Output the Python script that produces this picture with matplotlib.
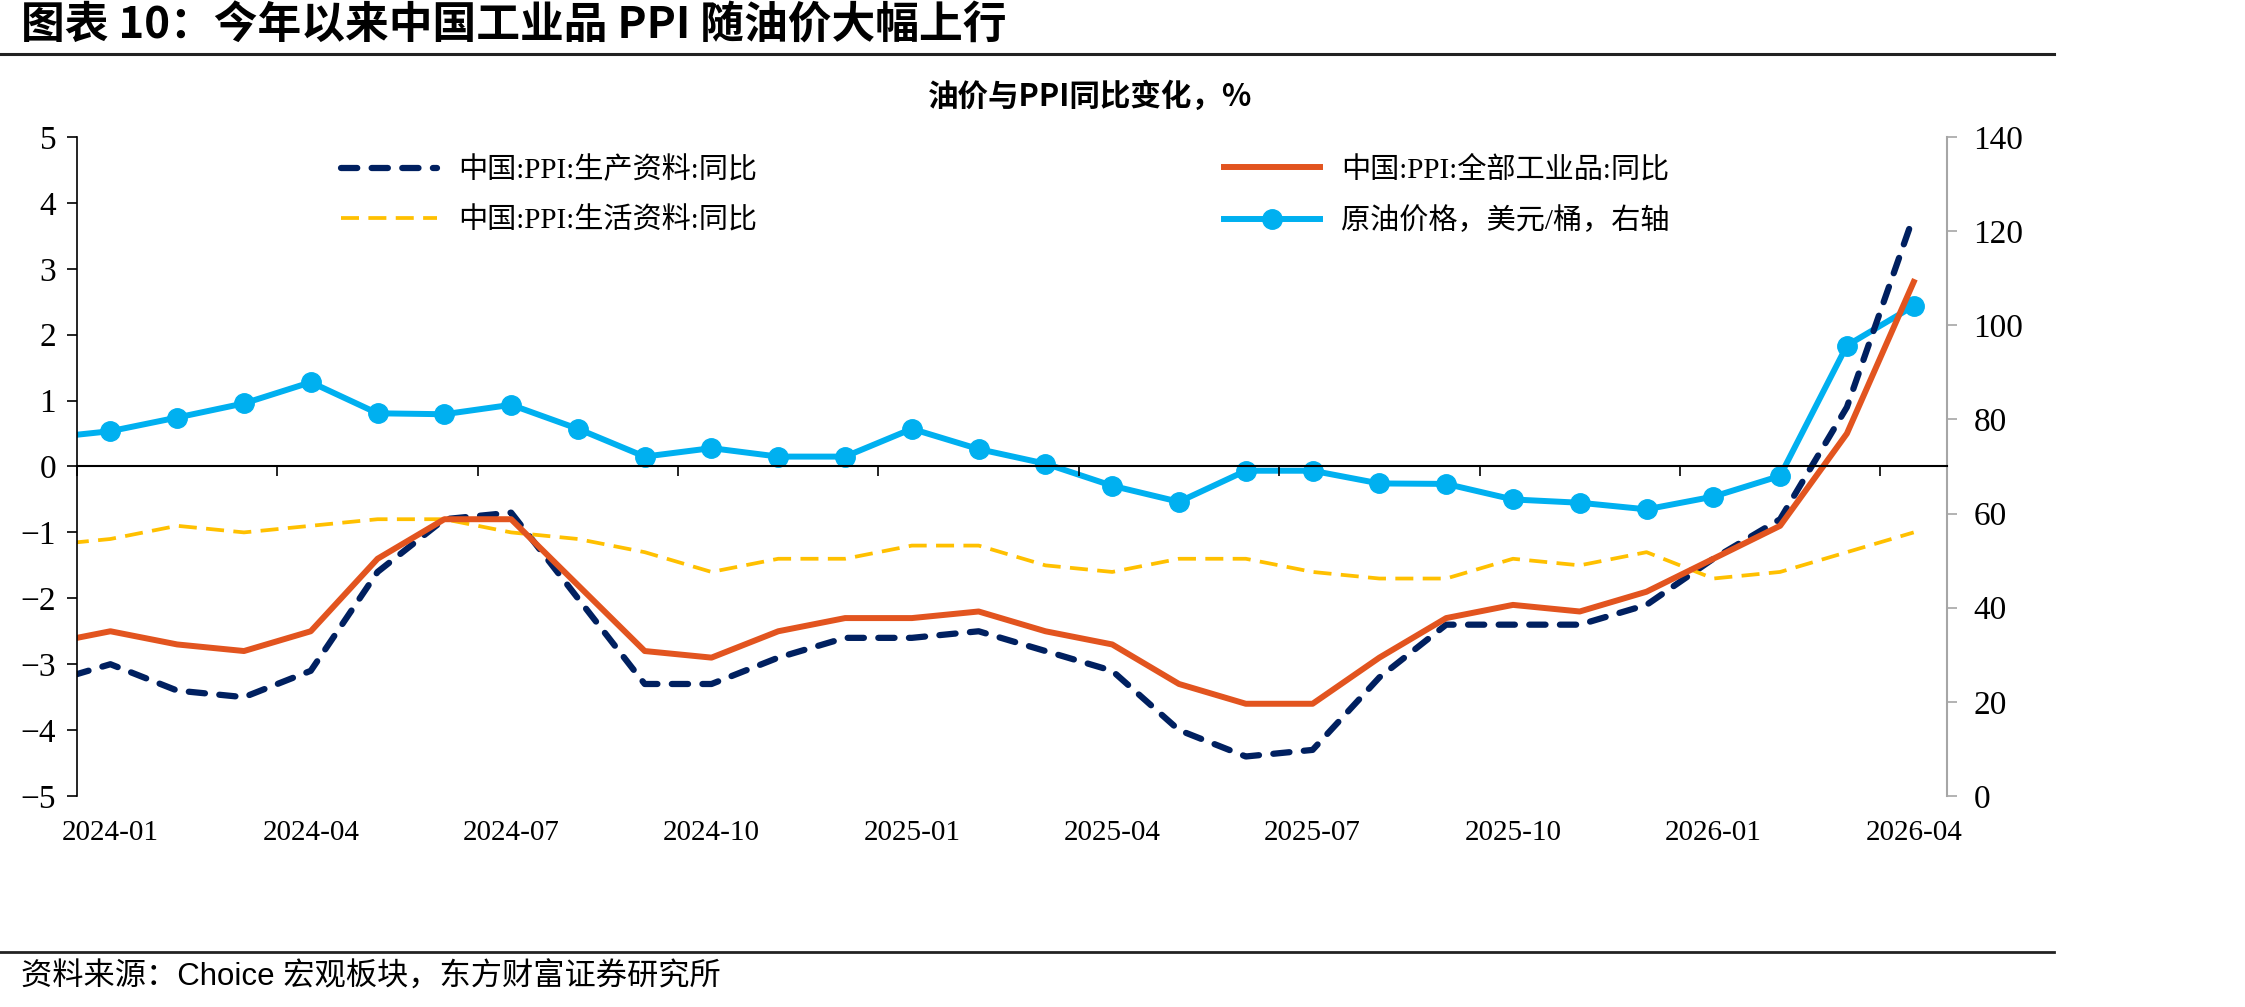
import matplotlib.pyplot as plt
from matplotlib.lines import Line2D
import numpy as np
import pandas as pd

plt.rcParams['font.family'] = ['Liberation Serif', 'Noto Sans CJK SC']

# 月份：2023-12 只用于画出左端被截断的一小段
months = [p.strftime('%Y-%m') for p in pd.period_range('2023-12', '2026-04', freq='M')]

# 中国:PPI:生产资料:同比
ppi_prod = [-3.3,
            -3.0, -3.4, -3.5, -3.1, -1.6, -0.8, -0.7, -2.0, -3.3, -3.3, -2.9, -2.6,
            -2.6, -2.5, -2.8, -3.1, -4.0, -4.4, -4.3, -3.2, -2.4, -2.4, -2.4, -2.1,
            -1.4, -0.8, 0.9, 3.8]
# 中国:PPI:全部工业品:同比
ppi_all = [-2.7,
           -2.5, -2.7, -2.8, -2.5, -1.4, -0.8, -0.8, -1.8, -2.8, -2.9, -2.5, -2.3,
           -2.3, -2.2, -2.5, -2.7, -3.3, -3.6, -3.6, -2.9, -2.3, -2.1, -2.2, -1.9,
           -1.4, -0.9, 0.5, 2.8]
# 中国:PPI:生活资料:同比
ppi_cons = [-1.2,
            -1.1, -0.9, -1.0, -0.9, -0.8, -0.8, -1.0, -1.1, -1.3, -1.6, -1.4, -1.4,
            -1.2, -1.2, -1.5, -1.6, -1.4, -1.4, -1.6, -1.7, -1.7, -1.4, -1.5, -1.3,
            -1.7, -1.6, -1.3, -1.0]
# 原油价格，美元/桶
oil = [76.0,
       77.5, 80.4, 83.4, 87.9, 81.3, 81.1, 83.1, 78.0, 72.1, 73.9, 72.1, 72.1,
       78.0, 73.7, 70.6, 65.9, 62.5, 69.1, 69.1, 66.4, 66.3, 63.0, 62.3, 60.9,
       63.6, 68.0, 95.7, 104.1]

labels = ['中国:PPI:生产资料:同比', '中国:PPI:生活资料:同比',
          '中国:PPI:全部工业品:同比', '原油价格，美元/桶，右轴']

x = np.arange(len(months)) - 1   # 2024-01 -> 0

fig = plt.figure(figsize=(22.45, 10.07), dpi=100)
ax = fig.add_axes([0.0343, 0.2095, 0.8330, 0.6545])
ax2 = ax.twinx()

h_prod, = ax.plot(x, ppi_prod, color='#002060', lw=4.5, ls=(0, (2.6, 2.3)),
                  dash_capstyle='round')
h_cons, = ax.plot(x, ppi_cons, color='#FFC000', lw=2.7, ls=(0, (4.8, 2.5)))
h_all, = ax.plot(x, ppi_all, color='#E2541F', lw=4.3)
h_oil, = ax2.plot(x, oil, color='#00B0F0', lw=4.3, marker='o', ms=14)

ax.set_zorder(ax2.get_zorder() + 1)
ax.patch.set_visible(False)

ax.set_xlim(-0.5, 27.5)
ax.set_ylim(-5, 5)
ax2.set_ylim(0, 140)
ax.set_yticks(range(-5, 6))
ax2.set_yticks(range(0, 141, 20))

# x 轴放在 0 处，刻度在类别之间
ax.spines['bottom'].set_position(('data', 0))
ax.set_xticks(np.arange(-0.5, 27.5, 3))
ax.tick_params(axis='x', direction='out', length=7, width=1.2, labelbottom=False)
for s in ['top', 'right']:
    ax.spines[s].set_visible(False)
ax.spines['left'].set_linewidth(1.2)
ax.spines['bottom'].set_linewidth(1.5)
ax.tick_params(axis='y', direction='out', length=7, width=1.2, pad=8, labelsize=24)

for s in ['top', 'left', 'bottom']:
    ax2.spines[s].set_visible(False)
ax2.spines['right'].set_color('#A6A6A6')
ax2.spines['right'].set_linewidth(1.5)
ax2.tick_params(axis='y', direction='out', length=7, width=1.2, color='#A6A6A6',
                pad=12, labelsize=24)

sec = ax.secondary_xaxis('bottom')
sec.set_xticks(x[1::3], months[1::3])
sec.tick_params(length=0, pad=17, labelsize=21)
sec.spines['bottom'].set_visible(False)

leg_kw = dict(loc='upper left', bbox_transform=fig.transFigure, frameon=False,
              fontsize=21, handlelength=3.3, handletextpad=0.72,
              labelspacing=0.8, borderpad=0, borderaxespad=0)
leg1 = ax.legend([h_prod, h_cons], labels[:2], bbox_to_anchor=(341 / 2245, 0.845), **leg_kw)
ax.add_artist(leg1)
ax.legend([h_all, h_oil], labels[2:], bbox_to_anchor=(1224 / 2245, 0.845), **leg_kw)

# 标题、副标题、来源
fig.text(21 / 2245, 1 - 26 / 1007, '图表 10：今年以来中国工业品 PPI 随油价大幅上行',
         fontsize=31.5, fontweight='bold', family=['Noto Sans CJK SC'], va='center')
fig.text(1090 / 2245, 1 - 97 / 1007, '油价与PPI同比变化，%', ha='center', va='center',
         fontsize=22, fontweight='bold', family=['Noto Sans CJK SC'])
fig.text(21 / 2245, 1 - 978 / 1007, '资料来源：Choice 宏观板块，东方财富证券研究所',
         fontsize=22.5, family=['Liberation Sans', 'Noto Sans CJK SC'], va='center')

fig.add_artist(Line2D([0, 0.915], [0.9464, 0.9464], color='#222222', lw=2.2,
                      transform=fig.transFigure))
fig.add_artist(Line2D([0, 0.915], [0.0546, 0.0546], color='#222222', lw=2,
                      transform=fig.transFigure))

fig.savefig('out.png', dpi=100)
